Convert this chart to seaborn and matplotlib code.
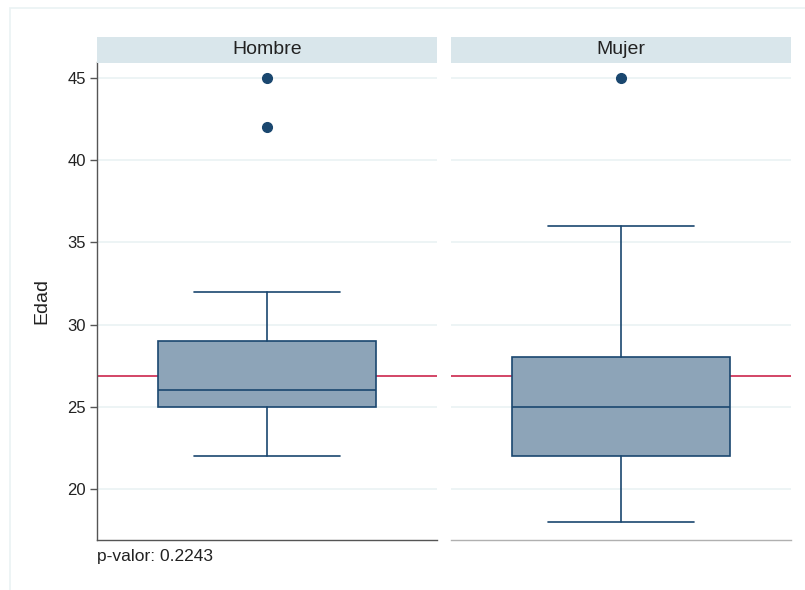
import matplotlib
matplotlib.use("Agg")
import matplotlib.pyplot as plt
from matplotlib.patches import Rectangle
import seaborn as sns

# Age distribution by sex: box summary statistics
groups = ["Hombre", "Mujer"]
whislo = [22, 18]
q1 = [25, 22]
med = [26, 25]
q3 = [29, 28]
whishi = [32, 36]
fliers = [[42, 45], [45]]
overall_mean = 26.87
p_value = 0.2243
yticks = [20, 25, 30, 35, 40, 45]

sns.set_theme(style="white")
plt.rcParams["font.family"] = ["Liberation Sans", "DejaVu Sans"]

NAVY = "#1a476f"
FILL = "#8da4b8"
RED = "#d0375a"
GRID = "#eaf2f3"
STRIP = "#d9e6eb"

W, H = 805, 590
fig = plt.figure(figsize=(W / 100, H / 100), dpi=100)
fig.patch.set_facecolor("white")

# light outer frame
fig.add_artist(Rectangle((10 / W, -0.01), 1.0, 1 - 8 / H + 0.01,
                         transform=fig.transFigure, fill=False,
                         edgecolor=GRID, linewidth=1.2))

panel_left = [97, 451]
panel_w = 340
top_px, bot_px = 62, 540
strip_top = 36

axes = []
for i, g in enumerate(groups):
    ax = fig.add_axes([panel_left[i] / W, 1 - bot_px / H,
                       panel_w / W, (bot_px - top_px) / H])
    axes.append(ax)
    stats = [dict(label=g, whislo=whislo[i], q1=q1[i], med=med[i],
                  q3=q3[i], whishi=whishi[i], fliers=fliers[i])]
    for y in yticks:
        ax.axhline(y, color=GRID, lw=1.2, zorder=0)
    ax.axhline(overall_mean, color=RED, lw=1.3, zorder=1)
    ax.bxp(stats, positions=[0], widths=0.64, capwidths=0.43,
           showfliers=True, patch_artist=True, zorder=2,
           boxprops=dict(facecolor=FILL, edgecolor=NAVY, linewidth=1.2),
           medianprops=dict(color=NAVY, linewidth=1.2),
           whiskerprops=dict(color=NAVY, linewidth=1.2),
           capprops=dict(color=NAVY, linewidth=1.2),
           flierprops=dict(marker="o", markerfacecolor=NAVY,
                           markeredgecolor=NAVY, markersize=7))
    ax.set_xlim(-0.5, 0.5)
    ax.set_ylim(16.9, 45.97)
    ax.set_xticks([])
    ax.set_yticks(yticks)
    ax.set_facecolor("white")
    for s in ["top", "right"]:
        ax.spines[s].set_visible(False)
    ax.spines["bottom"].set_linewidth(1.0)
    if i == 0:
        ax.spines["left"].set_color("#555555")
        ax.spines["left"].set_linewidth(1.0)
        ax.spines["bottom"].set_color("#555555")
        ax.tick_params(axis="y", left=True, length=5, width=1,
                       color="#555555", labelsize=12, pad=3,
                       labelcolor="#222222")
        ax.set_ylabel("Edad", fontsize=14, labelpad=12, color="#222222")
    else:
        ax.spines["left"].set_visible(False)
        ax.spines["bottom"].set_color("#b0b0b0")
        ax.tick_params(axis="y", left=False, labelleft=False)

    # facet header strip
    fig.add_artist(Rectangle((panel_left[i] / W, 1 - top_px / H - 0.002),
                             panel_w / W, (top_px - strip_top) / H,
                             transform=fig.transFigure, facecolor=STRIP,
                             edgecolor="none"))
    fig.text((panel_left[i] + panel_w / 2) / W, 1 - (strip_top + top_px) / 2 / H,
             g, ha="center", va="center", fontsize=14, color="#222222")

fig.text(97 / W, 1 - 557 / H, f"p-valor: {p_value}", ha="left",
         va="center", fontsize=12.5, color="#222222")

fig.savefig("out.png", dpi=100, facecolor="white")
